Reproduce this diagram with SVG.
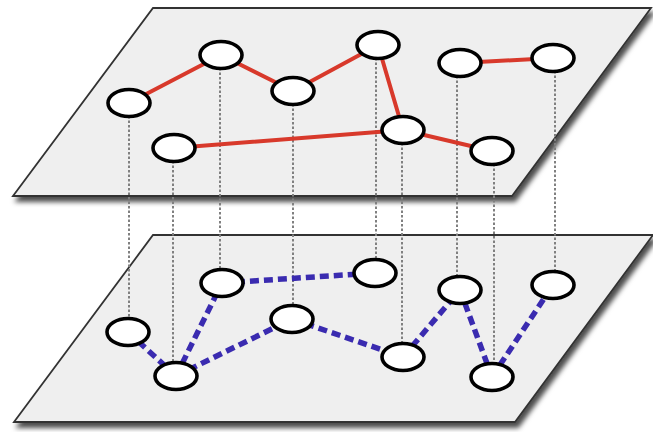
<svg xmlns="http://www.w3.org/2000/svg" width="653" height="432" viewBox="0 0 653 432">
  <defs>
    <filter id="shadow" x="-10%" y="-10%" width="130%" height="130%">
      <feDropShadow dx="3" dy="5" stdDeviation="2.6" flood-color="#000" flood-opacity="0.7"/>
    </filter>
  </defs>
  <style>
    .plane { fill: #efefef; stroke: #333333; stroke-width: 1.8; stroke-linejoin: miter; }
    .node ellipse { fill: #ffffff; stroke: #000000; stroke-width: 3.6; }
    .red { stroke: #d8392b; stroke-width: 4; fill: none; stroke-linecap: round; }
    .blue { stroke: #3a2bb0; stroke-width: 5.5; fill: none; stroke-dasharray: 9 5; }
    .dot { stroke: #808080; stroke-width: 2; fill: none; stroke-dasharray: 2.5 2; }
  </style>
  <rect width="653" height="432" fill="#ffffff"/>

  <!-- planes -->
  <polygon class="plane" filter="url(#shadow)" points="13,196 153,8 651,8 512,196"/>
  <polygon class="plane" filter="url(#shadow)" points="14,422 153,235 653,235 515,422"/>

  <g id="connectors">
    <!-- vertical dotted projections -->
    <g id="projections">
      <line class="dot" x1="129" y1="116" x2="129" y2="319"/>
      <line class="dot" x1="173" y1="161" x2="173" y2="364"/>
      <line class="dot" x1="220" y1="68" x2="220" y2="271"/>
      <line class="dot" x1="293" y1="104" x2="293" y2="307"/>
      <line class="dot" x1="376" y1="58" x2="376" y2="261"/>
      <line class="dot" x1="402" y1="143" x2="402" y2="345"/>
      <line class="dot" x1="457" y1="76" x2="457" y2="278"/>
      <line class="dot" x1="494" y1="164" x2="494" y2="365"/>
      <line class="dot" x1="555" y1="71" x2="555" y2="273"/>
    </g>
    <!-- top layer red edges -->
    <g id="top-edges">
      <line class="red" x1="129" y1="103" x2="221" y2="55"/>
      <line class="red" x1="221" y1="55" x2="293" y2="91"/>
      <line class="red" x1="293" y1="91" x2="378" y2="45"/>
      <line class="red" x1="378" y1="45" x2="403" y2="130"/>
      <line class="red" x1="460" y1="63" x2="553" y2="58"/>
      <line class="red" x1="174" y1="148" x2="403" y2="130"/>
      <line class="red" x1="403" y1="130" x2="492" y2="151"/>
    </g>
    <!-- bottom layer blue dashed edges -->
    <g id="bottom-edges">
      <line class="blue" x1="128" y1="332" x2="176" y2="376"/>
      <line class="blue" x1="176" y1="376" x2="222" y2="283"/>
      <line class="blue" x1="222" y1="283" x2="375" y2="273"/>
      <line class="blue" x1="176" y1="376" x2="292" y2="319"/>
      <line class="blue" x1="292" y1="319" x2="403" y2="357"/>
      <line class="blue" x1="403" y1="357" x2="460" y2="290"/>
      <line class="blue" x1="460" y1="290" x2="492" y2="377"/>
      <line class="blue" x1="492" y1="377" x2="553" y2="285"/>
    </g>
  </g>

  <!-- top layer nodes -->
  <g id="t1" class="node"><ellipse cx="129" cy="103" rx="21" ry="13.5"/></g>
  <g id="t2" class="node"><ellipse cx="221" cy="55" rx="21" ry="13.5"/></g>
  <g id="t3" class="node"><ellipse cx="293" cy="91" rx="21" ry="13.5"/></g>
  <g id="t4" class="node"><ellipse cx="378" cy="45" rx="21" ry="13.5"/></g>
  <g id="t5" class="node"><ellipse cx="460" cy="63" rx="21" ry="13.5"/></g>
  <g id="t6" class="node"><ellipse cx="553" cy="58" rx="21" ry="13.5"/></g>
  <g id="t7" class="node"><ellipse cx="174" cy="148" rx="21" ry="13.5"/></g>
  <g id="t8" class="node"><ellipse cx="403" cy="130" rx="21" ry="13.5"/></g>
  <g id="t9" class="node"><ellipse cx="492" cy="151" rx="21" ry="13.5"/></g>

  <!-- bottom layer nodes -->
  <g id="b1" class="node"><ellipse cx="128" cy="332" rx="21" ry="13.5"/></g>
  <g id="b2" class="node"><ellipse cx="222" cy="283" rx="21" ry="13.5"/></g>
  <g id="b3" class="node"><ellipse cx="292" cy="319" rx="21" ry="13.5"/></g>
  <g id="b4" class="node"><ellipse cx="375" cy="273" rx="21" ry="13.5"/></g>
  <g id="b5" class="node"><ellipse cx="460" cy="290" rx="21" ry="13.5"/></g>
  <g id="b6" class="node"><ellipse cx="553" cy="285" rx="21" ry="13.5"/></g>
  <g id="b7" class="node"><ellipse cx="176" cy="376" rx="21" ry="13.5"/></g>
  <g id="b8" class="node"><ellipse cx="403" cy="357" rx="21" ry="13.5"/></g>
  <g id="b9" class="node"><ellipse cx="492" cy="377" rx="21" ry="13.5"/></g>
</svg>
